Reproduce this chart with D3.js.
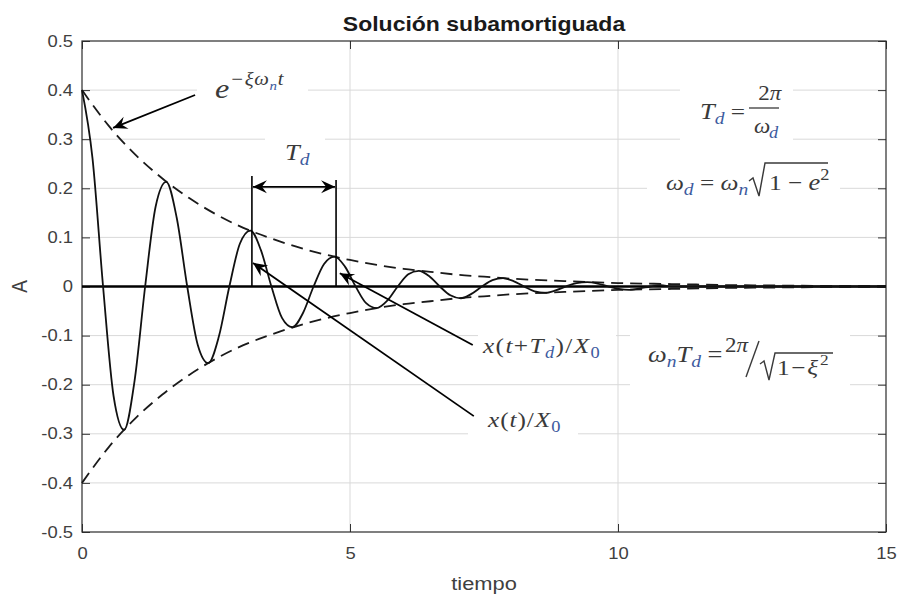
<!DOCTYPE html>
<html>
<head>
<meta charset="utf-8">
<script src="https://cdn.jsdelivr.net/npm/d3@7"></script>
<style>
  html, body { margin: 0; padding: 0; background: #fff; }
  svg { display: block; }
</style>
</head>
<body>
<svg id="chart" width="899" height="596"></svg>
<script>
// ---------------- DATA ----------------
const chartTitle = "Solución subamortiguada";
const xLabel = "tiempo";
const yLabel = "A";
const xTicks = [0, 5, 10, 15];
const yTicks = [-0.5, -0.4, -0.3, -0.2, -0.1, 0, 0.1, 0.2, 0.3, 0.4, 0.5];
const yTickLabels = ["-0.5", "-0.4", "-0.3", "-0.2", "-0.1", "0", "0.1", "0.2", "0.3", "0.4", "0.5"];

// response x(t)/X0 (peaks, troughs, crossings and in-between points)
const timeValues = [0, 0.196, 0.393, 0.589, 0.785, 0.982, 1.178, 1.374, 1.571, 1.767, 1.963, 2.160,
  2.356, 2.553, 2.749, 2.945, 3.142, 3.338, 3.534, 3.731, 3.927, 4.123, 4.320, 4.516, 4.712, 4.909,
  5.105, 5.301, 5.498, 5.694, 5.890, 6.087, 6.283, 6.479, 6.676, 6.872, 7.069, 7.265, 7.461, 7.658,
  7.854, 8.050, 8.247, 8.443, 8.639, 8.836, 9.032, 9.228, 9.425, 9.621, 9.817, 10.014, 10.21, 10.41,
  10.60, 10.80, 11.0, 15];
const responseValues = [0.400, 0.261, 0, -0.223, -0.292, -0.191, 0, 0.163, 0.213, 0.140, 0, -0.119,
  -0.156, -0.102, 0, 0.087, 0.114, 0.074, 0, -0.064, -0.083, -0.054, 0, 0.046, 0.061, 0.040,
  0, -0.034, -0.044, -0.029, 0, 0.025, 0.032, 0.021, 0, -0.018, -0.024, -0.015, 0, 0.013,
  0.017, 0.011, 0, -0.010, -0.013, -0.008, 0, 0.007, 0.009, 0.006, 0, -0.005, -0.007, -0.004,
  0, 0.003, 0, 0];

// decay envelope e^{-xi wn t} (upper, mirrored for lower)
const envelopeTime = [0, 0.5, 1, 1.5, 2, 2.5, 3, 3.5, 4, 4.5, 5, 5.5, 6, 6.5, 7, 7.5, 8, 9, 10, 11, 12, 13, 14, 15];
const envelopeValues = [0.400, 0.327, 0.268, 0.220, 0.180, 0.147, 0.120, 0.099, 0.081, 0.066, 0.054,
  0.044, 0.036, 0.030, 0.024, 0.020, 0.016, 0.011, 0.007, 0.005, 0.003, 0.002, 0.001, 0.001];

// annotation anchors (data coordinates)
const arrowFrom = [[2.11, 0.39], [7.31, -0.264], [7.29, -0.119]];
const arrowTo   = [[0.58, 0.323], [3.19, 0.048], [4.81, 0.027]];
const periodStart = 3.17, periodEnd = 4.74;
const periodTops = [0.225, 0.217];
const periodArrowLevel = 0.203;

// ---------------- LAYOUT ----------------
const W = 899, H = 596;
const mL = 82, mR = 886, mT = 41, mB = 532;
const SX = 1.15; // horizontal text stretch of the reference image
const SANS = "'Liberation Sans', Arial, Helvetica, sans-serif";
const SERIF = "'Liberation Serif', 'Times New Roman', serif";
const TXT = "#3a3a3a";
const BLUE = "#3d5a9e";

const svg = d3.select("#chart");
svg.append("rect").attr("width", W).attr("height", H).attr("fill", "#fff");

const x = d3.scaleLinear().domain([0, 15]).range([mL, mR]);
const y = d3.scaleLinear().domain([-0.5, 0.5]).range([mB, mT]);

// markers
const defs = svg.append("defs");
defs.append("marker")
  .attr("id", "stealth")
  .attr("viewBox", "-15 -7 16 14")
  .attr("refX", 0).attr("refY", 0)
  .attr("markerUnits", "userSpaceOnUse")
  .attr("markerWidth", 16).attr("markerHeight", 14)
  .attr("orient", "auto-start-reverse")
  .append("path")
  .attr("d", "M0,0 L-14,-6.5 L-9,0 L-14,6.5 Z")
  .attr("fill", "#000");

// grid
const grid = svg.append("g");
grid.selectAll("line.gx").data(xTicks.filter(d => d > 0 && d < 15)).join("line")
  .attr("x1", d => x(d)).attr("x2", d => x(d)).attr("y1", mT).attr("y2", mB)
  .attr("stroke", "#d9d9d9").attr("stroke-width", 1);
grid.selectAll("line.gy").data(yTicks.filter(d => d > -0.5 && d < 0.5)).join("line")
  .attr("x1", mL).attr("x2", mR).attr("y1", d => y(d)).attr("y2", d => y(d))
  .attr("stroke", "#d9d9d9").attr("stroke-width", 1);

// white boxes behind the equations (they hide the grid in the reference)
const boxes = [
  [197, 62, 111, 48],   // e^{-xi wn t}
  [265, 122, 60, 50],   // T_d
  [680, 56, 113, 92],   // T_d = 2pi/wd
  [647, 152, 193, 62],  // wd = wn sqrt
  [478, 318, 138, 54],  // x(t+Td)/X0
  [630, 318, 220, 78],  // wn Td
  [468, 392, 110, 60]   // x(t)/X0
];
svg.append("g").selectAll("rect").data(boxes).join("rect")
  .attr("x", d => d[0]).attr("y", d => d[1]).attr("width", d => d[2]).attr("height", d => d[3])
  .attr("fill", "#fff");

// axes (MATLAB style inward ticks)
function styleAxis(g) {
  g.select(".domain").remove();
  g.selectAll(".tick line").attr("stroke", "#333").attr("stroke-width", 1);
}
const yAxis = svg.append("g").attr("transform", `translate(${mL},0)`)
  .call(d3.axisLeft(y).tickValues(yTicks).tickSize(-8).tickPadding(9)
    .tickFormat((d, i) => yTickLabels[i]))
  .call(styleAxis);
yAxis.selectAll(".tick text")
  .attr("font-family", SANS).attr("font-size", 16).attr("fill", "#404040")
  .attr("transform", `scale(${SX},1)`).attr("x", -9 / SX);
svg.append("g").attr("transform", `translate(${mR},0)`)
  .call(d3.axisRight(y).tickValues(yTicks).tickSize(-8).tickFormat(""))
  .call(styleAxis);
const xAxis = svg.append("g").attr("transform", `translate(0,${mB})`)
  .call(d3.axisBottom(x).tickValues(xTicks).tickSize(-8).tickPadding(16).tickFormat(d3.format("d")))
  .call(styleAxis);
xAxis.selectAll(".tick text")
  .attr("font-family", SANS).attr("font-size", 16).attr("fill", "#404040")
  .attr("transform", `scale(${SX},1)`);
svg.append("g").attr("transform", `translate(0,${mT})`)
  .call(d3.axisTop(x).tickValues(xTicks).tickSize(-8).tickFormat(""))
  .call(styleAxis);

// frame
svg.append("rect").attr("x", mL).attr("y", mT).attr("width", mR - mL).attr("height", mB - mT)
  .attr("fill", "none").attr("stroke", "#2b2b2b").attr("stroke-width", 1.2);

// zero line
svg.append("line").attr("x1", x(0)).attr("x2", x(15)).attr("y1", y(0)).attr("y2", y(0))
  .attr("stroke", "#000").attr("stroke-width", 2.6);

// envelope
const envPts = envelopeTime.map((t, i) => [t, envelopeValues[i]]);
const envLine = d3.line().x(d => x(d[0])).y(d => y(d[1])).curve(d3.curveMonotoneX);
svg.append("path").attr("d", envLine(envPts))
  .attr("fill", "none").attr("stroke", "#1a1a1a").attr("stroke-width", 1.8).attr("stroke-dasharray", "12,7");
svg.append("path").attr("d", envLine(envPts.map(d => [d[0], -d[1]])))
  .attr("fill", "none").attr("stroke", "#1a1a1a").attr("stroke-width", 1.8).attr("stroke-dasharray", "12,7");

// response
const respPts = timeValues.map((t, i) => [t, responseValues[i]]);
svg.append("path")
  .attr("d", d3.line().x(d => x(d[0])).y(d => y(d[1])).curve(d3.curveMonotoneX)(respPts))
  .attr("fill", "none").attr("stroke", "#111").attr("stroke-width", 1.8);

// period bracket
svg.append("line").attr("x1", x(periodStart)).attr("x2", x(periodStart))
  .attr("y1", y(periodTops[0])).attr("y2", y(0)).attr("stroke", "#000").attr("stroke-width", 1.6);
svg.append("line").attr("x1", x(periodEnd)).attr("x2", x(periodEnd))
  .attr("y1", y(periodTops[1])).attr("y2", y(0)).attr("stroke", "#000").attr("stroke-width", 1.6);
svg.append("line").attr("x1", x(periodStart) + 1).attr("x2", x(periodEnd) - 1)
  .attr("y1", y(periodArrowLevel)).attr("y2", y(periodArrowLevel))
  .attr("stroke", "#000").attr("stroke-width", 1.8)
  .attr("marker-start", "url(#stealth)").attr("marker-end", "url(#stealth)");

// pointer arrows
arrowFrom.forEach((f, i) => {
  svg.append("line")
    .attr("x1", x(f[0])).attr("y1", y(f[1]))
    .attr("x2", x(arrowTo[i][0])).attr("y2", y(arrowTo[i][1]))
    .attr("stroke", "#000").attr("stroke-width", 1.8)
    .attr("marker-end", "url(#stealth)");
});

// ---------------- TEXT ----------------
function stretched(xp, yp) {
  return svg.append("g").attr("transform", `translate(${xp},${yp}) scale(${SX},1)`);
}
// parts: [text, size, opts] opts: i=italic, b=blue, dy=baseline offset
function math(xp, yp, parts, anchor, spacing) {
  const t = stretched(xp, yp).append("text")
    .attr("font-family", SERIF).attr("fill", TXT)
    .attr("letter-spacing", spacing || 0)
    .attr("text-anchor", anchor || "start");
  parts.forEach(p => {
    const o = p[2] || {};
    t.append("tspan").text(p[0])
      .attr("y", o.dy || 0)
      .attr("font-size", p[1])
      .attr("font-style", o.i ? "italic" : "normal")
      .attr("fill", o.b ? BLUE : TXT);
  });
  return t;
}

// title
stretched((mL + mR) / 2, 31).append("text").text(chartTitle)
  .attr("font-family", SANS).attr("font-weight", "bold").attr("font-size", 20)
  .attr("text-anchor", "middle").attr("fill", "#1a1a1a");
// x label
stretched((mL + mR) / 2, 590).append("text").text(xLabel)
  .attr("font-family", SANS).attr("font-size", 19)
  .attr("text-anchor", "middle").attr("fill", "#404040");
// y label
svg.append("g").attr("transform", `translate(27,${y(0)}) rotate(-90) scale(1,${SX})`)
  .append("text").text(yLabel)
  .attr("font-family", SANS).attr("font-size", 19)
  .attr("text-anchor", "middle").attr("fill", "#404040");

// e^{-xi wn t}
math(215, 98, [
  ["e", 28, {i: 1}],
  ["\u2212\u03BE\u03C9", 18, {i: 1, dy: -13}],
  ["n", 13, {i: 1, b: 1, dy: -8}],
  ["t", 18, {i: 1, dy: -13}]
], "start", 0.6);
// T_d label
math(285, 160, [["T", 23, {i: 1}], ["d", 17, {i: 1, b: 1, dy: 5}]]);

// T_d = 2pi / w_d
math(700, 119, [["T", 23, {i: 1}], ["d", 17, {i: 1, b: 1, dy: 5}], ["  =", 22, {}]]);
math(764, 100, [["2", 20, {}], ["\u03C0", 20, {i: 1}]], "middle");
svg.append("line").attr("x1", 749).attr("x2", 779).attr("y1", 108).attr("y2", 108)
  .attr("stroke", TXT).attr("stroke-width", 1.3);
math(754, 133, [["\u03C9", 20, {i: 1}], ["d", 16, {i: 1, b: 1, dy: 5}]], "start", -1);

// w_d = w_n sqrt(1 - e^2)
math(666, 190, [["\u03C9", 22, {i: 1}], ["d", 17, {i: 1, b: 1, dy: 5}], [" = ", 22, {}],
  ["\u03C9", 22, {i: 1}], ["n", 17, {i: 1, b: 1, dy: 5}]], "start", 0);
svg.append("path").attr("d", "M749,181 L753,178 L759,196 L765,163 L828,163")
  .attr("fill", "none").attr("stroke", TXT).attr("stroke-width", 1.4);
math(769, 190, [["1 \u2212 ", 22, {}], ["e", 23, {i: 1}], ["2", 16, {dy: -10}]], "start", 0);

// x(t+T_d)/X_0
math(483, 353, [["x", 22, {i: 1}], ["(", 22, {}], ["t", 22, {i: 1}], ["+", 22, {}], ["T", 22, {i: 1}],
  ["d", 16, {i: 1, b: 1, dy: 5}], [")/", 22, {}], ["X", 22, {i: 1}], ["0", 16, {b: 1, dy: 5}]], "start", 1.2);
// x(t)/X_0
math(488, 427, [["x", 22, {i: 1}], ["(", 22, {}], ["t", 22, {i: 1}], [")/", 22, {}], ["X", 22, {i: 1}],
  ["0", 16, {b: 1, dy: 5}]], "start", 0.8);

// w_n T_d = 2pi / sqrt(1 - xi^2)
math(648, 362, [["\u03C9", 23, {i: 1}], ["n", 17, {i: 1, b: 1, dy: 5}], ["T", 23, {i: 1}],
  ["d", 17, {i: 1, b: 1, dy: 5}], [" =", 23, {}]]);
math(725, 352, [["2", 20, {}], ["\u03C0", 20, {i: 1}]]);
svg.append("path").attr("d", "M746,377 L759,341")
  .attr("fill", "none").attr("stroke", TXT).attr("stroke-width", 1.4);
svg.append("path").attr("d", "M760,364 L764,361 L769,380 L775,353 L833,353")
  .attr("fill", "none").attr("stroke", TXT).attr("stroke-width", 1.4);
math(777, 375, [["1\u2212", 22, {}], ["\u03BE", 22, {i: 1}], ["2", 15, {dy: -10}]], "start", 1.5);
</script>
</body>
</html>
